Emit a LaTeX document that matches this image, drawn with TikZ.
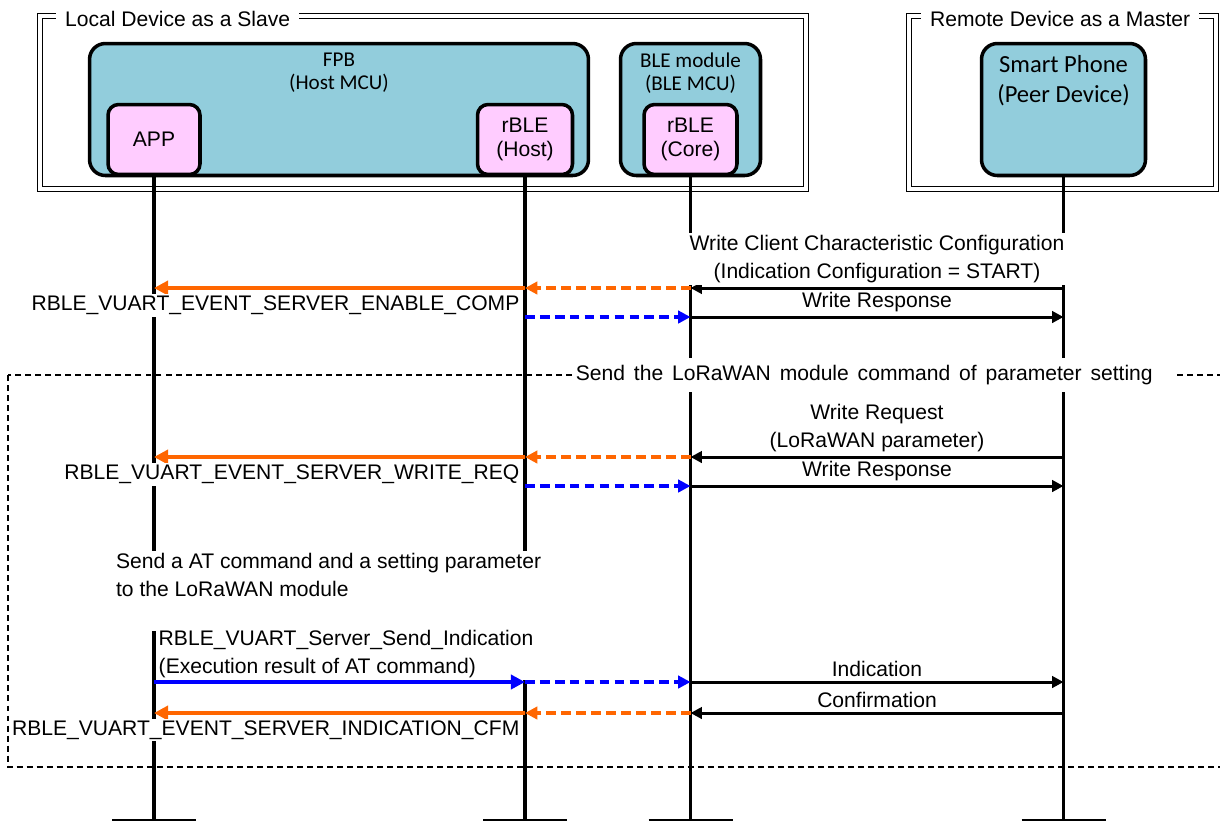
\documentclass[tikz,border=0pt]{standalone}
\usepackage{fontspec}
\setmainfont{Liberation Sans}
\newfontfamily\calfont{Carlito}
\usepackage{tikz}
\usetikzlibrary{arrows.meta, positioning, calc}
\definecolor{unitblue}{RGB}{146,205,220}
\definecolor{blockpink}{RGB}{255,204,255}
\definecolor{evtorange}{RGB}{255,102,0}

\begin{document}
\begin{tikzpicture}[
  x=0.02cm, y=-0.02cm,
  font=\fontsize{12}{16}\selectfont,
  frame/.style = { draw=black, double, line width=1pt, double distance=1.8pt },
  ftitle/.style = { fill=white, anchor=west, inner xsep=5pt, inner ysep=2pt },
  grp/.style = { draw=black, line width=0.7pt, dash pattern=on 3.4pt off 2.3pt },
  unit/.style = {
    draw, line width=2pt, fill=unitblue, rounded corners=9pt,
    minimum height=2.64cm, inner sep=0pt
  },
  ulbl/.style = { align=center, inner sep=2pt, font=\calfont\fontsize{12}{13.2}\selectfont },
  block/.style = {
    draw, line width=2pt, fill=blockpink, rounded corners=6pt,
    minimum height=1.4cm, inner sep=0pt, align=center,
    font=\fontsize{12}{13.6}\selectfont
  },
  life/.style = { line width=2pt },
  foot/.style = { line width=0.9pt },
  lbl/.style = { fill=white, inner sep=1pt, align=center },
  msg/.style = { -{Triangle[length=6.5pt,width=6.5pt]}, line width=1.7pt },
  evt/.style = { -{Triangle[length=8pt,width=8pt]}, line width=2.8pt, draw=evtorange },
  evtd/.style = { -{Triangle[length=7pt,width=7pt]}, line width=1.8pt, draw=evtorange, dash pattern=on 5.5pt off 3pt },
  api/.style = { -{Triangle[length=8pt,width=8pt]}, line width=2.8pt, draw=blue },
  apid/.style = { -{Triangle[length=7pt,width=7pt]}, line width=1.8pt, draw=blue, dash pattern=on 5.5pt off 3pt }
]
\useasboundingbox (0,0) rectangle (1220,823);
\clip (0,0) rectangle (1220,823);

% device frames
\draw[frame] (40,16) rectangle (806,189);
\node[ftitle] (localttl) at (56,19) {Local Device as a Slave};
\draw[frame] (909,16) rectangle (1216,189);
\node[ftitle] (remotettl) at (921,19) {Remote Device as a Master};

% MCUs and blocks
\node[unit, minimum width=9.98cm] (fpb) at (339,109.5) {};
\node[ulbl, below=4pt of fpb.north] (fpbtxt) {FPB\\(Host MCU)};
\node[unit, minimum width=2.8cm] (ble) at (690.5,109.5) {};
\node[ulbl, below=4pt of ble.north] (bletxt) {BLE module\\(BLE MCU)};
\node[unit, minimum width=3.28cm] (phone) at (1063.5,109.5) {};
\node[ulbl, below=5.6pt of phone.north, font=\calfont\fontsize{14}{17}\selectfont] (phonetxt) {Smart Phone\\(Peer Device)};

\node[block, minimum width=1.84cm] (app)  at (154,139.5) {APP};
\node[block, minimum width=1.9cm]  (host) at (525,139.5) {rBLE\\(Host)};
\node[block, minimum width=1.86cm] (core) at (690.5,139.5) {rBLE\\(Core)};

% lifelines
\coordinate (bot) at (0,820);
\draw[life] (app.south) -- (app.south |- bot);
\draw[life] (host.south) -- (host.south |- bot);
\draw[life] (core.south) -- (core.south |- bot);
\draw[life] (phone.south) -- (phone.south |- bot);
\foreach \n in {app,host,core,phone}
  \draw[foot] ($(\n.south |- bot)+(-42,0)$) -- ($(\n.south |- bot)+(42,0)$);

% message rows
\coordinate (r1) at (0,288);
\coordinate (r2) at (0,317);
\coordinate (r3) at (0,457);
\coordinate (r4) at (0,486);
\coordinate (r6) at (0,682);
\coordinate (r7) at (0,713);

% indication configuration
\draw[msg] (phone |- r1) -- node[lbl, above=1pt]{Write Client Characteristic Configuration\\(Indication Configuration = START)} (core |- r1);
\draw[evtd] (core |- r1) -- (host |- r1);
\draw[evt] (host |- r1) -- (app |- r1);
\node[lbl, anchor=south east] (enablecomp) at ([xshift=-2pt]host |- r2) {RBLE\_VUART\_EVENT\_SERVER\_ENABLE\_COMP};
\draw[apid] (host |- r2) -- (core |- r2);
\draw[msg] (core |- r2) -- node[lbl, above=1pt]{Write Response} (phone |- r2);

% parameter setting group
\draw[grp] (8,375) rectangle (1240,767);
\node[ftitle, inner xsep=2pt, inner ysep=4pt] (grpttl) at (572,375) {\spaceskip=0.42em\relax Send the LoRaWAN module command of parameter setting\hspace*{0.4cm}};

\draw[msg] (phone |- r3) -- node[lbl, above=1pt]{Write Request\\(LoRaWAN parameter)} (core |- r3);
\draw[evtd] (core |- r3) -- (host |- r3);
\draw[evt] (host |- r3) -- (app |- r3);
\node[lbl, anchor=south east] (writereq) at ([xshift=-2pt]host |- r4) {RBLE\_VUART\_EVENT\_SERVER\_WRITE\_REQ};
\draw[apid] (host |- r4) -- (core |- r4);
\draw[msg] (core |- r4) -- node[lbl, above=1pt]{Write Response} (phone |- r4);

\node[lbl, anchor=north west, align=left, text depth=0.66cm] (atcmd) at (114,551) {Send a AT command and a setting parameter\\to the LoRaWAN module};

\node[lbl, anchor=south west, align=left] (sendind) at ([xshift=1.5pt,yshift=1pt]app |- r6) {RBLE\_VUART\_Server\_Send\_Indication\\(Execution result of AT command)};
\draw[api] (app |- r6) -- (host |- r6);
\draw[apid] (host |- r6) -- (core |- r6);
\draw[msg] (core |- r6) -- node[lbl, above=1pt]{Indication} (phone |- r6);

\draw[msg] (phone |- r7) -- node[lbl, above=1pt]{Confirmation} (core |- r7);
\draw[evtd] (core |- r7) -- (host |- r7);
\draw[evt] (host |- r7) -- (app |- r7);
\node[lbl, anchor=north east] (indcfm) at ([xshift=-2pt,yshift=-3pt]host |- r7) {RBLE\_VUART\_EVENT\_SERVER\_INDICATION\_CFM};

\end{tikzpicture}
\end{document}
